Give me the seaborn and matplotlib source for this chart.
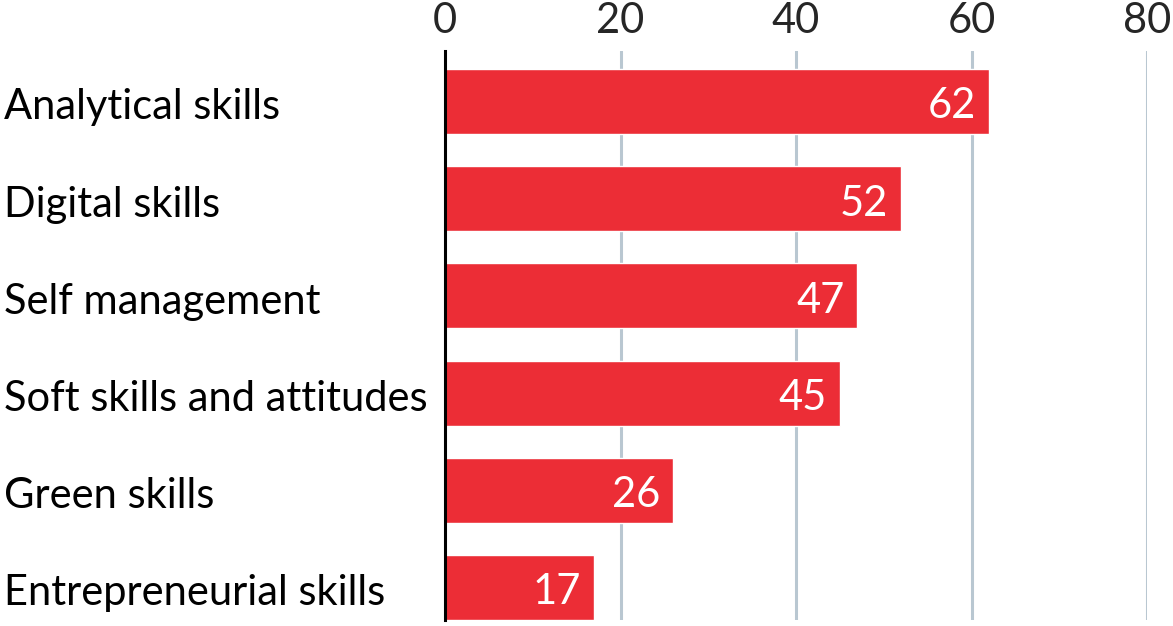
import matplotlib
matplotlib.use("Agg")
import matplotlib.pyplot as plt
import seaborn as sns
import pandas as pd

categories = ["Analytical skills", "Digital skills", "Self management",
              "Soft skills and attitudes", "Green skills", "Entrepreneurial skills"]
values = [62, 52, 47, 45, 26, 17]
xticks = [0, 20, 40, 60, 80]

sns.set_theme(style="white")
plt.rcParams['font.family'] = ['Lato', 'DejaVu Sans']

df = pd.DataFrame({"skill": categories, "value": values})

fig = plt.figure(figsize=(11.73, 6.26), dpi=100)
ax = fig.add_axes([445/1173, (626-620)/626, (1147-445)/1173, (620-51)/626])

RED = "#EC2D36"
GRID = "#B9C7D1"

for t in xticks[1:]:
    ax.axvline(t, color=GRID, lw=2.2, zorder=0)

sns.barplot(data=df, x="value", y="skill", orient="h", color=RED,
            width=0.67, saturation=1, ax=ax, zorder=2)
ax.set_ylim(5.335, -0.52)
ax.set_xlim(0, 80)

for i, v in enumerate(values):
    ax.text(v - 1.5, i + 0.05, str(v), color="white", ha="right", va="center",
            fontsize=30, zorder=3)

ax.xaxis.tick_top()
ax.set_xticks(xticks)
ax.set_xticklabels([str(t) for t in xticks], fontsize=30)
ax.tick_params(axis="x", length=0, pad=8)
ax.tick_params(axis="y", length=0, pad=0)
ax.set_xlabel("")
ax.set_ylabel("")
ax.set_yticks(range(len(categories)))
ax.set_yticklabels([])
for i, c in enumerate(categories):
    ax.text(-441 / (702/80), i + 0.06, c, ha="left", va="center", fontsize=30,
            color="black")

for s in ["top", "right", "bottom"]:
    ax.spines[s].set_visible(False)
ax.spines["left"].set_color("black")
ax.spines["left"].set_linewidth(2.2)
ax.spines["left"].set_zorder(4)

fig.savefig("out.png", dpi=100)
